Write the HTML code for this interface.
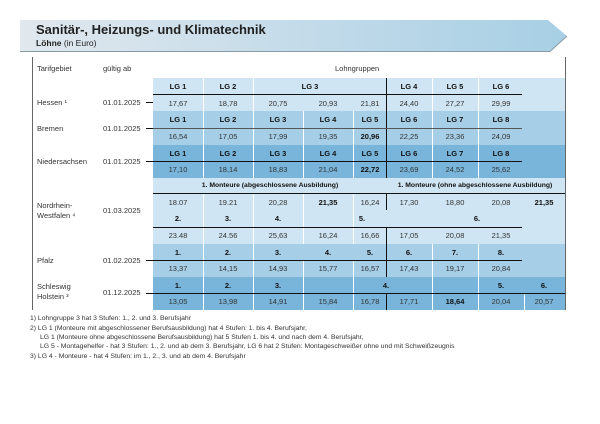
<!DOCTYPE html>
<html><head><meta charset="utf-8"><style>
*{margin:0;padding:0;box-sizing:border-box}
body{width:600px;height:424px;background:#fff;position:relative;overflow:hidden;font-family:"Liberation Sans",sans-serif;color:#222}
.a{position:absolute}
.b{position:absolute;left:153px;width:412px}
.l1{background:#cfe5f3}.l2{background:#a6cee7}.l3{background:#79b5da}
.t{position:absolute;font-size:7.5px;white-space:nowrap;transform:translateX(-50%);color:#333}
.k{font-weight:bold;color:#111}
.m{font-size:6.8px}
.h{position:absolute;height:1px;background:#111}
.v{position:absolute;width:1px;background:#fff}
.vb{position:absolute;width:1px;background:#111}
.lab{position:absolute;font-size:7.5px;color:#333;white-space:nowrap}
.fn{position:absolute;left:30px;font-size:6.8px;color:#333;white-space:nowrap}
</style></head><body>
<div class="a" style="left:20px;top:20px;width:548px;height:32px">
<svg width="548" height="33"><defs><linearGradient id="g" x1="0" x2="1"><stop offset="0" stop-color="#e1e8ee"/><stop offset="1" stop-color="#a7cfe5"/></linearGradient></defs><polygon points="0,0 528,0 547,16 530,31 0,31" fill="url(#g)"/><polyline points="0,31.5 530,31.5 547,16" fill="none" stroke="#8a9aa5" stroke-width="1"/></svg>
</div>
<div class="a" style="left:36px;top:22px;font-size:13px;font-weight:bold;color:#222">Sanitär-, Heizungs- und Klimatechnik</div>
<div class="a" style="left:36px;top:38px;font-size:8.5px;color:#222"><b>Löhne</b> (in Euro)</div>
<div class="a" style="left:32px;top:57px;width:1px;height:253px;background:#666"></div>
<div class="a" style="left:565px;top:57px;width:1px;height:253px;background:#666"></div>
<div class="lab" style="left:37px;top:64px">Tarifgebiet</div>
<div class="lab" style="left:103px;top:64px">gültig ab</div>
<div class="lab" style="left:335px;top:64px">Lohngruppen</div>

<div class="b l1" style="top:78px;height:33px"></div>
<div class="b l2" style="top:111px;height:34px"></div>
<div class="b l3" style="top:145px;height:33px"></div>
<div class="b l1" style="top:178px;height:66px"></div>
<div class="b l2" style="top:244px;height:33px"></div>
<div class="b l3" style="top:277px;height:33px"></div>

<div class="v" style="left:203px;top:78px;height:100px"></div><div class="v" style="left:253px;top:78px;height:100px"></div>
<div class="v" style="left:303px;top:111px;height:67px"></div><div class="v" style="left:353px;top:111px;height:67px"></div>
<div class="v" style="left:432px;top:78px;height:100px"></div><div class="v" style="left:478px;top:78px;height:100px"></div>
<div class="v" style="left:203px;top:193px;height:51px"></div><div class="v" style="left:253px;top:193px;height:51px"></div>
<div class="v" style="left:303px;top:193px;height:51px"></div><div class="v" style="left:353px;top:193px;height:51px"></div>
<div class="v" style="left:203px;top:244px;height:66px"></div><div class="v" style="left:253px;top:244px;height:66px"></div>
<div class="v" style="left:303px;top:260px;height:50px"></div><div class="v" style="left:353px;top:260px;height:50px"></div>
<div class="v" style="left:432px;top:244px;height:66px"></div><div class="v" style="left:478px;top:244px;height:66px"></div>
<div class="v" style="left:524px;top:293px;height:17px"></div>

<div class="vb" style="left:386px;top:78px;height:100px"></div>
<div class="vb" style="left:386px;top:193px;height:17px"></div>
<div class="vb" style="left:386px;top:227px;height:17px"></div>
<div class="vb" style="left:386px;top:244px;height:33px"></div>
<div class="vb" style="left:386px;top:293px;height:17px"></div>
<div class="h" style="left:153px;top:94px;width:369px"></div>
<div class="h" style="left:153px;top:128px;width:369px;background:#555"></div>
<div class="h" style="left:153px;top:161px;width:369px"></div>
<div class="h" style="left:153px;top:193px;width:412px"></div>
<div class="h" style="left:153px;top:227px;width:369px"></div>
<div class="h" style="left:153px;top:260px;width:369px"></div>
<div class="h" style="left:153px;top:293px;width:412px"></div>

<div class="lab" style="left:37px;top:98px">Hessen ¹</div>
<div class="lab" style="left:103px;top:98px">01.01.2025</div>
<div class="lab" style="left:37px;top:124px">Bremen</div>
<div class="lab" style="left:103px;top:124px">01.01.2025</div>
<div class="lab" style="left:37px;top:157px">Niedersachsen</div>
<div class="lab" style="left:103px;top:157px">01.01.2025</div>
<div class="lab" style="left:37px;top:201px;line-height:10px">Nordrhein-<br>Westfalen ⁴</div>
<div class="lab" style="left:103px;top:206px">01.03.2025</div>
<div class="lab" style="left:37px;top:256px">Pfalz</div>
<div class="lab" style="left:103px;top:256px">01.02.2025</div>
<div class="lab" style="left:37px;top:282px;line-height:10px">Schleswig<br>Holstein ³</div>
<div class="lab" style="left:103px;top:288px">01.12.2025</div>
<div class="h" style="left:146px;top:102px;width:7px"></div>
<div class="h" style="left:146px;top:128px;width:7px"></div>
<div class="h" style="left:146px;top:161px;width:7px"></div>
<div class="h" style="left:146px;top:260px;width:7px"></div>
<div class="h" style="left:146px;top:293px;width:7px"></div>

<div>
<span class="t k" style="left:178px;top:82px">LG 1</span><span class="t k" style="left:228px;top:82px">LG 2</span><span class="t k" style="left:310px;top:82px">LG 3</span><span class="t k" style="left:409px;top:82px">LG 4</span><span class="t k" style="left:455px;top:82px">LG 5</span><span class="t k" style="left:501px;top:82px">LG 6</span>
<span class="t" style="left:178px;top:99px">17,67</span><span class="t" style="left:228px;top:99px">18,78</span><span class="t" style="left:278px;top:99px">20,75</span><span class="t" style="left:328px;top:99px">20,93</span><span class="t" style="left:370px;top:99px">21,81</span><span class="t" style="left:409px;top:99px">24,40</span><span class="t" style="left:455px;top:99px">27,27</span><span class="t" style="left:501px;top:99px">29,99</span>
</div>
<div>
<span class="t k" style="left:178px;top:115px">LG 1</span><span class="t k" style="left:228px;top:115px">LG 2</span><span class="t k" style="left:278px;top:115px">LG 3</span><span class="t k" style="left:328px;top:115px">LG 4</span><span class="t k" style="left:370px;top:115px">LG 5</span><span class="t k" style="left:409px;top:115px">LG 6</span><span class="t k" style="left:455px;top:115px">LG 7</span><span class="t k" style="left:501px;top:115px">LG 8</span>
<span class="t" style="left:178px;top:132px">16,54</span><span class="t" style="left:228px;top:132px">17,05</span><span class="t" style="left:278px;top:132px">17,99</span><span class="t" style="left:328px;top:132px">19,35</span><span class="t k" style="left:370px;top:132px">20,96</span><span class="t" style="left:409px;top:132px">22,25</span><span class="t" style="left:455px;top:132px">23,36</span><span class="t" style="left:501px;top:132px">24,09</span>
</div>
<div>
<span class="t k" style="left:178px;top:149px">LG 1</span><span class="t k" style="left:228px;top:149px">LG 2</span><span class="t k" style="left:278px;top:149px">LG 3</span><span class="t k" style="left:328px;top:149px">LG 4</span><span class="t k" style="left:370px;top:149px">LG 5</span><span class="t k" style="left:409px;top:149px">LG 6</span><span class="t k" style="left:455px;top:149px">LG 7</span><span class="t k" style="left:501px;top:149px">LG 8</span>
<span class="t" style="left:178px;top:165px">17,10</span><span class="t" style="left:228px;top:165px">18,14</span><span class="t" style="left:278px;top:165px">18,83</span><span class="t" style="left:328px;top:165px">21,04</span><span class="t k" style="left:370px;top:165px">22,72</span><span class="t" style="left:409px;top:165px">23,69</span><span class="t" style="left:455px;top:165px">24,52</span><span class="t" style="left:501px;top:165px">25,62</span>
</div>
<div>
<span class="t k m" style="left:270px;top:182px">1. Monteure (abgeschlossene Ausbildung)</span><span class="t k m" style="left:475px;top:182px">1. Monteure (ohne abgeschlossene Ausbildung)</span>
<span class="t" style="left:178px;top:198px">18.07</span><span class="t" style="left:228px;top:198px">19.21</span><span class="t" style="left:278px;top:198px">20,28</span><span class="t k" style="left:328px;top:198px">21,35</span><span class="t" style="left:370px;top:198px">16,24</span><span class="t" style="left:409px;top:198px">17,30</span><span class="t" style="left:455px;top:198px">18,80</span><span class="t" style="left:501px;top:198px">20,08</span><span class="t k" style="left:544px;top:198px">21,35</span>
<span class="t k" style="left:178px;top:214px">2.</span><span class="t k" style="left:228px;top:214px">3.</span><span class="t k" style="left:278px;top:214px">4.</span><span class="t k" style="left:362px;top:214px">5.</span><span class="t k" style="left:477px;top:214px">6.</span>
<span class="t" style="left:178px;top:231px">23.48</span><span class="t" style="left:228px;top:231px">24.56</span><span class="t" style="left:278px;top:231px">25,63</span><span class="t" style="left:328px;top:231px">16,24</span><span class="t" style="left:370px;top:231px">16,66</span><span class="t" style="left:409px;top:231px">17,05</span><span class="t" style="left:455px;top:231px">20,08</span><span class="t" style="left:501px;top:231px">21,35</span>
</div>
<div>
<span class="t k" style="left:178px;top:248px">1.</span><span class="t k" style="left:228px;top:248px">2.</span><span class="t k" style="left:278px;top:248px">3.</span><span class="t k" style="left:328px;top:248px">4.</span><span class="t k" style="left:370px;top:248px">5.</span><span class="t k" style="left:409px;top:248px">6.</span><span class="t k" style="left:455px;top:248px">7.</span><span class="t k" style="left:501px;top:248px">8.</span>
<span class="t" style="left:178px;top:264px">13,37</span><span class="t" style="left:228px;top:264px">14,15</span><span class="t" style="left:278px;top:264px">14,93</span><span class="t" style="left:328px;top:264px">15,77</span><span class="t" style="left:370px;top:264px">16,57</span><span class="t" style="left:409px;top:264px">17,43</span><span class="t" style="left:455px;top:264px">19,17</span><span class="t" style="left:501px;top:264px">20,84</span>
</div>
<div>
<span class="t k" style="left:178px;top:281px">1.</span><span class="t k" style="left:228px;top:281px">2.</span><span class="t k" style="left:278px;top:281px">3.</span><span class="t k" style="left:386px;top:281px">4.</span><span class="t k" style="left:501px;top:281px">5.</span><span class="t k" style="left:544px;top:281px">6.</span>
<span class="t" style="left:178px;top:297px">13,05</span><span class="t" style="left:228px;top:297px">13,98</span><span class="t" style="left:278px;top:297px">14,91</span><span class="t" style="left:328px;top:297px">15,84</span><span class="t" style="left:370px;top:297px">16,78</span><span class="t" style="left:409px;top:297px">17,71</span><span class="t k" style="left:455px;top:297px">18,64</span><span class="t" style="left:501px;top:297px">20,04</span><span class="t" style="left:544px;top:297px">20,57</span>
</div>

<div class="fn" style="top:315px">1) Lohngruppe 3 hat 3 Stufen: 1., 2. und 3. Berufsjahr</div>
<div class="fn" style="top:325px">2) LG 1 (Monteure mit abgeschlossener Berufsausbildung) hat 4 Stufen: 1. bis 4. Berufsjahr,</div>
<div class="fn" style="top:334px;left:40px">LG 1 (Monteure ohne abgeschlossene Berufsausbildung) hat 5 Stufen 1. bis 4. und nach dem 4. Berufsjahr,</div>
<div class="fn" style="top:343px;left:40px">LG 5 - Montagehelfer - hat 3 Stufen: 1., 2. und ab dem 3. Berufsjahr, LG 6 hat 2 Stufen: Montageschweißer ohne und mit Schweißzeugnis</div>
<div class="fn" style="top:353px">3) LG 4 - Monteure - hat 4 Stufen: im 1., 2., 3. und ab dem 4. Berufsjahr</div>
</body></html>
